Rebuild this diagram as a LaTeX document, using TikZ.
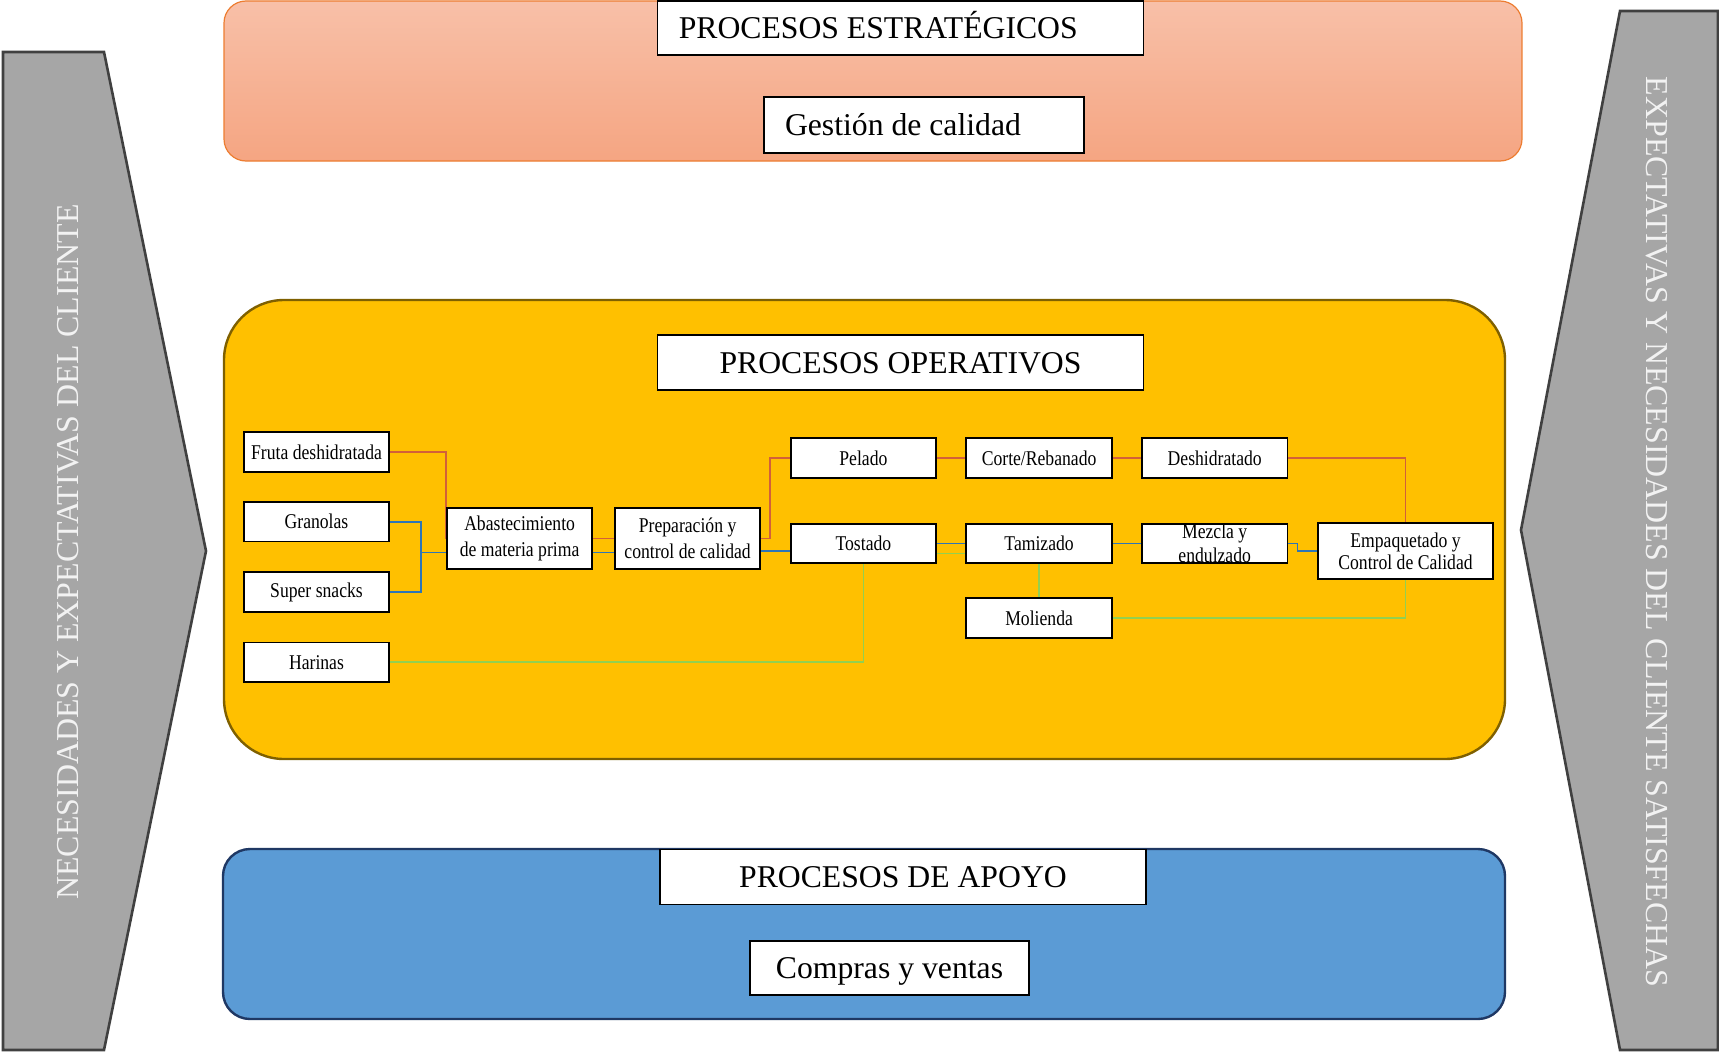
\documentclass[tikz,border=0pt]{standalone}
\usepackage{fontspec}
\setmainfont{Liberation Serif}
\newfontfamily\condfont[FakeStretch=0.84]{Liberation Serif}
\usetikzlibrary{calc}

\definecolor{chevfill}{RGB}{166,166,166}
\definecolor{chevline}{RGB}{64,64,64}
\definecolor{sidetextc}{RGB}{242,242,242}
\definecolor{stratTop}{RGB}{248,192,168}
\definecolor{stratBot}{RGB}{245,165,130}
\definecolor{stratLine}{RGB}{237,125,49}
\definecolor{operFill}{RGB}{255,192,0}
\definecolor{operLine}{RGB}{127,96,0}
\definecolor{supFill}{RGB}{91,155,213}
\definecolor{supLine}{RGB}{31,56,100}
\definecolor{linkred}{RGB}{210,96,58}
\definecolor{linkblue}{RGB}{46,117,182}
\definecolor{linkgreen}{RGB}{146,208,80}

\pgfdeclarelayer{panels}
\pgfdeclarelayer{links}
\pgfsetlayers{panels,links,main}

\begin{document}
\begin{tikzpicture}[x=1pt,y=-1pt,
  chev/.style={fill=chevfill,draw=chevline,line width=2.6pt,line join=miter},
  sidetext/.style={text=sidetextc,font=\fontsize{31.9}{36}\selectfont,inner sep=0pt},
  titlebox/.style={draw=black,line width=1.3pt,fill=white,inner sep=0pt,
    font=\fontsize{31.7}{38}\selectfont,text height=21pt,text depth=0pt},
  stepbox/.style={draw=black,line width=1.8pt,fill=white,inner sep=0pt,align=center,
    font=\condfont\fontsize{21}{26}\selectfont,minimum width=145.5pt,minimum height=39.4pt},
  redlink/.style={draw=linkred,line width=1.5pt},
  bluelink/.style={draw=linkblue,line width=1.5pt},
  greenlink/.style={draw=linkgreen,line width=1.5pt}]

\useasboundingbox (0,0) rectangle (1719,1057);

% ---------- panels and side chevrons ----------
\begin{pgfonlayer}{panels}
  \fill[white] (0,0) rectangle (1719,1057);
  \draw[chev] (3,52) -- (104,52) -- (206,551) -- (104,1050) -- (3,1050) -- cycle;
  \draw[chev] (1620,11) -- (1718,11) -- (1718,1050) -- (1620,1050) -- (1521,530) -- cycle;
  \draw[draw=stratLine,line width=1.2pt,top color=stratTop,bottom color=stratBot,
        rounded corners=22pt] (224,1) rectangle (1522,161);
  \draw[draw=operLine,fill=operFill,line width=2.4pt,rounded corners=60pt]
        (224,300) rectangle (1505,759);
  \draw[draw=supLine,fill=supFill,line width=2.4pt,rounded corners=27pt]
        (223,849) rectangle (1505,1019);
\end{pgfonlayer}

\node[sidetext,rotate=90] (needs) at (68,552) {NECESIDADES Y EXPECTATIVAS DEL CLIENTE};
\node[sidetext,rotate=-90] (satisfied) at (1657,532) {EXPECTATIVAS Y NECESIDADES DEL CLIENTE SATISFECHAS};

% ---------- section titles ----------
\node[titlebox,minimum width=485.5pt,minimum height=54pt]
  (strat) at (900.5,28) {\makebox[443.5pt][l]{PROCESOS ESTRATÉGICOS}};
\node[titlebox,minimum width=320pt,minimum height=56pt]
  (quality) at (924,125) {\makebox[278pt][l]{Gestión de calidad}};
\node[titlebox,minimum width=485.5pt,minimum height=55pt]
  (oper) at (900.5,362.5) {PROCESOS OPERATIVOS};
\node[titlebox,minimum width=486pt,minimum height=54.5pt]
  (support) at (903,877) {PROCESOS DE APOYO};
\node[titlebox,minimum width=279pt,minimum height=54pt]
  (trade) at (889.5,968) {Compras y ventas};

% ---------- process steps ----------
\node[stepbox] (fruta)   at (316.5,452)   {Fruta deshidratada};
\node[stepbox] (gran)    at (316.5,521.8) {Granolas};
\node[stepbox] (super)   at (316.5,592)   {Super snacks};
\node[stepbox] (harinas) at (316.5,662.2) {Harinas};
\node[stepbox,minimum height=60.7pt] (abast) at (519.6,538.7) {Abastecimiento\\de materia prima};
\node[stepbox,minimum height=60.7pt] (prep)  at (687.6,538.7) {Preparación y\\control de calidad};
\node[stepbox] (pelado)  at (863.4,458)   {Pelado};
\node[stepbox] (corte)   at (1039.1,458)  {Corte/Rebanado};
\node[stepbox] (deshid)  at (1214.7,458)  {Deshidratado};
\node[stepbox] (tostado) at (863.4,543.4) {Tostado};
\node[stepbox] (tamiz)   at (1039.1,543.4) {Tamizado};
\node[stepbox,font=\condfont\fontsize{21}{24.4}\selectfont] (mezcla) at (1214.7,543.4) {Mezcla y\\endulzado};
\node[stepbox] (molienda) at (1039.1,617.9) {Molienda};
\node[stepbox,minimum width=175.6pt,minimum height=55.7pt,
      font=\condfont\fontsize{21}{22}\selectfont] (empaq) at (1405.5,551.2) {Empaquetado y\\Control de Calidad};

% ---------- connectors ----------
\begin{pgfonlayer}{links}
  % dehydrated fruit line
  \draw[redlink] (fruta.east) -| (abast.west);
  \draw[redlink] (abast.east) -- (prep.west);
  \draw[redlink] (prep.east) -- ++(8.6,0) |- (pelado.west);
  \draw[redlink] (pelado.east) -- (corte.west);
  \draw[redlink] (corte.east) -- (deshid.west);
  \draw[redlink] (deshid.east) -| (empaq.north);
  % granola and snack line
  \coordinate (joinb) at (421,552.7);
  \draw[bluelink] (gran.east) -| (joinb) -- (joinb -| abast.west);
  \draw[bluelink] (super.east) -| (joinb);
  \draw[bluelink] ([yshift=-14pt]abast.east) -- ([yshift=-14pt]prep.west);
  \draw[bluelink] ([yshift=-12.3pt]prep.east) -- ([yshift=-12.3pt]prep.east -| tostado.west);
  \draw[bluelink] (tostado.east) -- (tamiz.west);
  \draw[bluelink] (tamiz.east) -- (mezcla.west);
  \draw[bluelink] (mezcla.east) -- ++(9.2,0) |- (empaq.west);
  % flour line
  \draw[greenlink] (harinas.east) -| (tostado.south);
  \draw[greenlink] ([yshift=-10pt]tostado.east) -- ([yshift=-10pt]tamiz.west);
  \draw[greenlink] (tamiz.south) -- (molienda.north);
  \draw[greenlink] (molienda.east) -| (empaq.south);
\end{pgfonlayer}

\end{tikzpicture}
\end{document}
